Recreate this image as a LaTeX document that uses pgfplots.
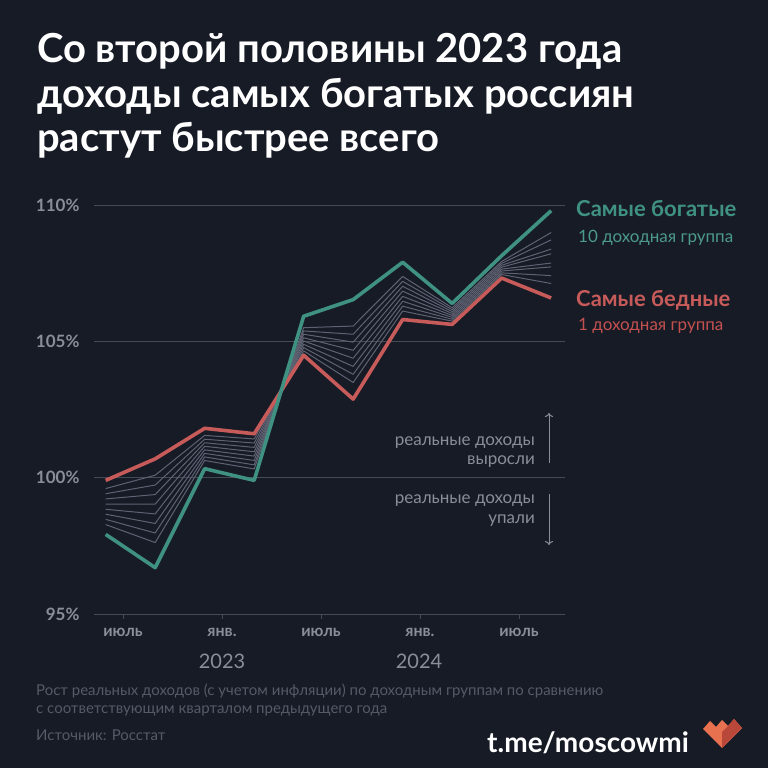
\documentclass[border=0pt]{standalone}
\usepackage{pgfplots}
\pgfplotsset{compat=1.18}
\usepackage{pgfplotstable}
\usetikzlibrary{arrows.meta}
\usepackage{fontspec}
\setmainfont{Lato}
\definecolor{bg}{HTML}{171B26}
\definecolor{gridc}{HTML}{454A57}
\definecolor{tickc}{HTML}{8A8E99}
\definecolor{teal}{HTML}{3F9282}
\definecolor{tealtxt}{HTML}{4C9A8B}
\definecolor{redl}{HTML}{C75B5A}
\definecolor{redtxt}{HTML}{C4514F}
\definecolor{grayl}{HTML}{5E6272}
\definecolor{footc}{HTML}{555A67}
\definecolor{logoa}{HTML}{E8714F}
\definecolor{logob}{HTML}{B9473A}
\newcommand\fs[1]{\fontsize{#1bp}{#1bp}\selectfont}
\pgfplotstableread{
x r g2 g3 g4 g5 g6 g7 g8 g9 t
0 99.90 99.60 99.41 99.22 99.03 98.84 98.66 98.47 98.28 97.92
1 100.69 100.09 99.73 99.38 99.03 98.67 98.32 97.97 97.62 96.70
2 101.81 101.55 101.41 101.28 101.15 101.02 100.89 100.76 100.63 100.33
3 101.61 101.42 101.27 101.11 100.95 100.79 100.63 100.47 100.32 99.90
4 104.49 104.65 104.77 104.89 105.01 105.13 105.26 105.38 105.50 105.92
5 102.88 103.49 103.79 104.08 104.38 104.67 104.97 105.26 105.56 106.53
6 105.80 106.11 106.29 106.47 106.65 106.84 107.02 107.20 107.38 107.90
7 105.62 105.74 105.81 105.88 105.95 106.02 106.09 106.16 106.23 106.39
8 107.32 107.45 107.51 107.58 107.65 107.72 107.79 107.86 107.93 108.14
9 106.59 107.12 107.41 107.73 107.87 108.21 108.38 108.72 108.99 109.79
}\incomedata
\begin{document}
\begin{tikzpicture}[x=1bp,y=1bp]
\fill[bg] (0,0) rectangle (768,768);
\clip (0,0) rectangle (768,768);
% title
\node[anchor=base west, text=white, inner sep=0] at (37,705) {\fs{40}\bfseries Со второй половины 2023 года};
\node[anchor=base west, text=white, inner sep=0] at (37,660) {\fs{40}\bfseries доходы самых богатых россиян};
\node[anchor=base west, text=white, inner sep=0] at (37,616) {\fs{40}\bfseries растут быстрее всего};
\begin{axis}[
  at={(94bp,154bp)}, anchor=south west, scale only axis,
  width=471bp, height=409bp,
  xmin=-0.236, xmax=9.28, ymin=95, ymax=110,
  axis line style={draw=none},
  ytick={95,100,105,110},
  yticklabels={95\%,100\%,105\%,110\%},
  ymajorgrids, grid style={gridc, line width=0.9bp},
  xtick={0.35,2.35,4.35,6.35,8.35},
  xticklabels={июль,янв.,июль,янв.,июль},
  xtick pos=lower, ytick pos=left,
  tick align=outside, major tick length=5bp,
  x tick style={gridc, line width=0.9bp},
  y tick style={draw=none},
  xticklabel style={font=\fs{16}\bfseries, text=tickc, yshift=-6bp},
  yticklabel style={font=\fs{17}\bfseries, text=tickc, xshift=-6bp},
  clip=false,
]
\foreach \g in {g2,g3,g4,g5,g6,g7,g8,g9}{
  \addplot[grayl, line width=1bp, line join=round] table[x=x, y=\g] {\incomedata};
}
\addplot[redl, line width=3.6bp, line join=round] table[x=x, y=r] {\incomedata};
\addplot[teal, line width=3.6bp, line join=round] table[x=x, y=t] {\incomedata};
\end{axis}
% year labels
\node[text=tickc] at (222,107) {\fs{20}2023};
\node[text=tickc] at (419,107) {\fs{20}2024};
% right labels
\node[anchor=base west, text=teal, inner sep=0] at (576,551) {\fs{22}\bfseries Самые богатые};
\node[anchor=base west, text=tealtxt, inner sep=0] at (578,525) {\fs{17}10 доходная группа};
\node[anchor=base west, text=redl, inner sep=0] at (576,461) {\fs{22}\bfseries Самые бедные};
\node[anchor=base west, text=redtxt, inner sep=0] at (578,437) {\fs{17}1 доходная группа};
% annotations
\node[anchor=base east, text=tickc, inner sep=0] at (535,322) {\fs{17}реальные доходы};
\node[anchor=base east, text=tickc, inner sep=0] at (535,303) {\fs{17}выросли};
\node[anchor=base east, text=tickc, inner sep=0] at (535,264) {\fs{17}реальные доходы};
\node[anchor=base east, text=tickc, inner sep=0] at (535,244) {\fs{17}упали};
\draw[tickc, line width=1bp, -{To[length=4bp,width=8bp]}] (549,305) -- (549,355);
\draw[tickc, line width=1bp, -{To[length=4bp,width=8bp]}] (549,274) -- (549,223);
% footnote
\node[anchor=base west, text=footc, inner sep=0] at (36,72) {\fs{15}Рост реальных доходов (с учетом инфляции) по доходным группам по сравнению};
\node[anchor=base west, text=footc, inner sep=0] at (36,54) {\fs{15}с соответствующим кварталом предыдущего года};
\node[anchor=base west, text=footc, inner sep=0] at (36,27) {\fs{15}Источник: Росстат};
% brand
\node[anchor=base west, text=white, inner sep=0] at (487,15) {\fs{28}\bfseries t.me/moscowmi};
\fill[logoa] (703,39) -- (710,47) -- (716,41) -- (722,48) -- (728,42) -- (734,49) -- (742,40) -- (722,20) -- cycle;
\fill[logob] (722,20) -- (742,40) -- (734,49) -- (728,42) -- (722,36) -- cycle;
\end{tikzpicture}
\end{document}
